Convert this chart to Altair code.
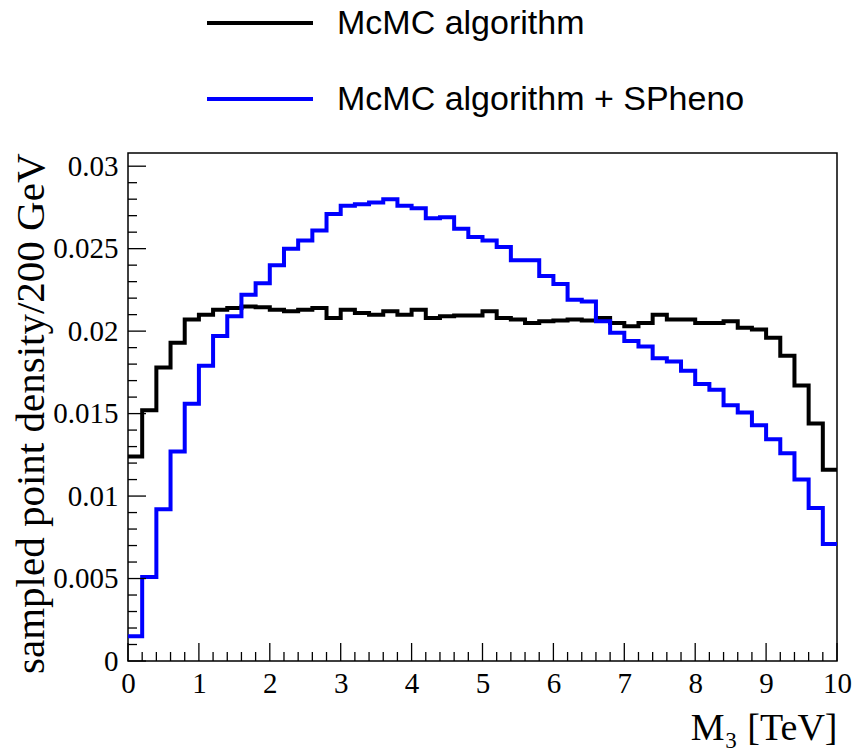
import altair as alt
import pandas as pd
import numpy as np

# ---- data ----
series_names = ["McMC algorithm", "McMC algorithm + SPheno"]
series_colors = ["#000000", "#0000ff"]

bin_edges = [round(i * 0.2, 1) for i in range(50)]  # left edges, 200 GeV bins (TeV)
x_max = 10.0

mcmc = [0.0124, 0.0152, 0.0178, 0.0193, 0.0207, 0.0210, 0.0213, 0.0214, 0.0215, 0.02145,
        0.0213, 0.0212, 0.0213, 0.0214, 0.0208, 0.0213, 0.0211, 0.0210, 0.0212, 0.0210,
        0.0213, 0.0208, 0.0209, 0.02095, 0.02095, 0.0212, 0.0208, 0.0207, 0.0205, 0.0206,
        0.02065, 0.0207, 0.02065, 0.0208, 0.0205, 0.0203, 0.0205, 0.0210, 0.0207, 0.0207,
        0.0205, 0.0205, 0.0206, 0.0202, 0.0201, 0.0196, 0.0185, 0.0167, 0.0144, 0.0116]

spheno = [0.0015, 0.0051, 0.0092, 0.0127, 0.0156, 0.0179, 0.0197, 0.0209, 0.0222, 0.0229,
          0.0240, 0.0250, 0.0255, 0.0261, 0.0271, 0.0276, 0.0277, 0.0278, 0.0280, 0.0276,
          0.02745, 0.02685, 0.0269, 0.0262, 0.0257, 0.0255, 0.0251, 0.0243, 0.0243, 0.02335,
          0.02285, 0.0219, 0.0218, 0.0206, 0.0199, 0.0194, 0.01907, 0.01836, 0.01816, 0.0176,
          0.0168, 0.01645, 0.0155, 0.01507, 0.0143, 0.01345, 0.0126, 0.0110, 0.00927, 0.00709]

x_label_values = list(range(0, 11))
y_label_values = [0, 0.005, 0.01, 0.015, 0.02, 0.025, 0.03]

# ---- build tables ----
rows = []
for name, vals in zip(series_names, [mcmc, spheno]):
    for i, (e, v) in enumerate(zip(bin_edges, vals)):
        rows.append({"series": name, "x": e, "y": v, "o": i})
    rows.append({"series": name, "x": x_max, "y": vals[-1], "o": len(vals)})
hist = pd.DataFrame(rows)

W, H = 709, 508
Y_MAX = 0.0308

x_scale = alt.Scale(domain=[0, x_max], nice=False, zero=False)
y_scale = alt.Scale(domain=[0, Y_MAX], nice=False)
color_scale = alt.Scale(domain=series_names, range=series_colors)

x_axis = alt.Axis(values=x_label_values, format="d", labelPadding=8, labelFlush=False,
                  title="M₃ [TeV]", titleFontSize=38, titleAnchor="end",
                  titleAlign="right", titleBaseline="alphabetic", titleY=78)
y_axis = alt.Axis(values=y_label_values, format=".3~f", labelPadding=10, labelFlush=False,
                  title="sampled point density/200 GeV", titleFontSize=41,
                  titleAnchor="end", titleAngle=270, titleAlign="right",
                  titleBaseline="alphabetic", titleX=-85)

lines = alt.Chart(hist).mark_line(interpolate="step-after", strokeWidth=4).encode(
    x=alt.X("x:Q", scale=x_scale, axis=x_axis),
    y=alt.Y("y:Q", scale=y_scale, axis=y_axis),
    color=alt.Color("series:N", scale=color_scale, legend=None),
    order="o:Q",
    detail="series:N",
)

# inward ROOT-style ticks
x_ticks = pd.DataFrame({"pos": np.round(np.arange(0, 10.0001, 0.2), 1)})
x_ticks["major"] = (np.abs(x_ticks["pos"] - np.round(x_ticks["pos"])) < 1e-6)
y_ticks = pd.DataFrame({"pos": np.round(np.arange(0, 0.03001, 0.001), 4)})
y_ticks["major"] = [(round(p * 1000) % 5 == 0) for p in y_ticks["pos"]]

def xtick_layer(df, length):
    return alt.Chart(df).mark_rule(color="black", strokeWidth=1.3).encode(
        x=alt.X("pos:Q", scale=x_scale, axis=x_axis),
        y=alt.value(H), y2=alt.value(H - length))

def ytick_layer(df, length):
    return alt.Chart(df).mark_rule(color="black", strokeWidth=1.3).encode(
        y=alt.Y("pos:Q", scale=y_scale, axis=y_axis),
        x=alt.value(0), x2=alt.value(length))

ticks = [
    xtick_layer(x_ticks[x_ticks["major"]], 18),
    xtick_layer(x_ticks[~x_ticks["major"]], 9),
    ytick_layer(y_ticks[y_ticks["major"]], 18),
    ytick_layer(y_ticks[~y_ticks["major"]], 9),
]

# legend drawn above the frame
leg = pd.DataFrame({"series": series_names, "row": [0, 1]})
legend_layers = []
for i, name in enumerate(series_names):
    d = leg[leg["series"] == name]
    yy = -130 + 76 * i
    legend_layers.append(
        alt.Chart(d).mark_rule(strokeWidth=4).encode(
            x=alt.value(79), x2=alt.value(185), y=alt.value(yy),
            color=alt.Color("series:N", scale=color_scale, legend=None)))
    legend_layers.append(
        alt.Chart(d).mark_text(align="left", baseline="middle", font="Liberation Sans",
                               fontSize=34, color="black").encode(
            x=alt.value(209), y=alt.value(yy + 1), text="series:N"))

chart = alt.layer(lines, *ticks, *legend_layers).properties(
    width=W, height=H,
    autosize=alt.AutoSizeParams(type="none"),
    padding={"left": 128, "top": 153, "right": 17, "bottom": 88},
).configure_view(
    stroke="black", strokeWidth=1.5
).configure_axis(
    grid=False, domain=False, ticks=False, tickSize=0,
    labelFont="Liberation Serif", labelFontSize=29, labelColor="black",
    titleFont="Liberation Serif", titleColor="black", titleFontWeight="normal",
)

chart.save("out.html", embed_options={"renderer": "svg", "actions": False})
